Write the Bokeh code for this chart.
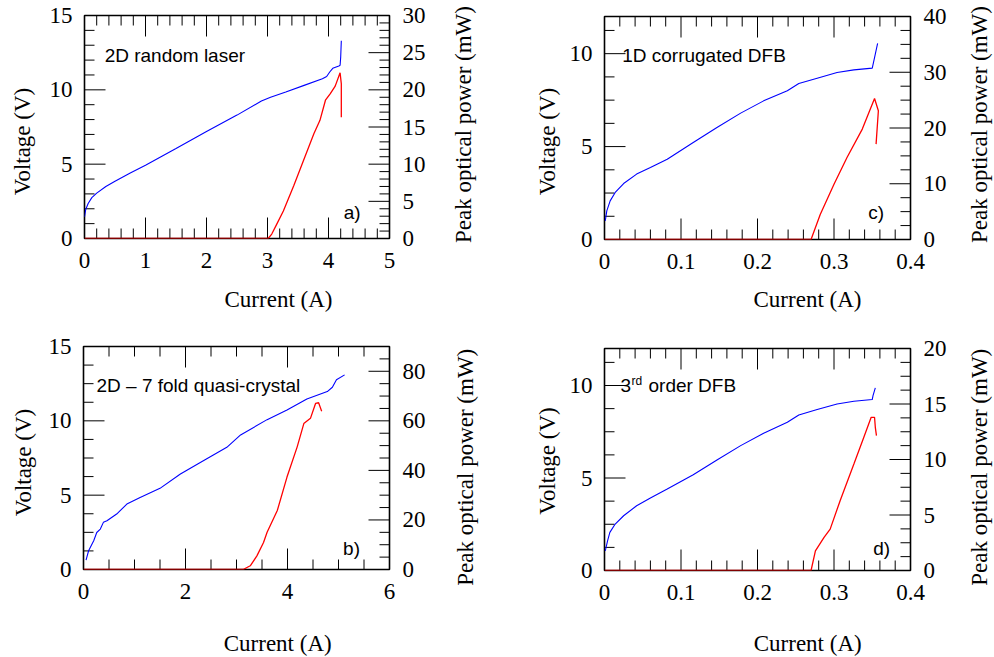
import math
from bokeh.plotting import figure
from bokeh.models import Range1d, LinearAxis, FixedTicker, Label
from bokeh.layouts import column, row
from bokeh.embed import file_html
from bokeh.resources import INLINE

# ---------------- data ----------------
# panel a) 2D random laser
a_cur_v = [0.0, 0.02, 0.06, 0.12, 0.2, 0.35, 0.5, 0.75, 1.0, 1.5, 2.0, 2.5, 2.9, 3.05,
           3.3, 3.6, 3.9, 3.97, 4.02, 4.07, 4.17, 4.19, 4.2, 4.21]
a_volt = [1.45, 1.95, 2.35, 2.75, 3.05, 3.5, 3.85, 4.4, 4.92, 6.05, 7.2, 8.3, 9.25, 9.5,
          9.85, 10.3, 10.75, 10.9, 11.2, 11.45, 11.6, 11.65, 12.2, 13.3]
a_cur_p = [0.0, 3.01, 3.07, 3.15, 3.26, 3.43, 3.59, 3.76, 3.86, 3.95, 4.03, 4.11, 4.19, 4.21, 4.21]
a_pow = [0.0, 0.0, 0.6, 1.9, 3.7, 7.1, 10.5, 14.1, 15.9, 18.6, 19.5, 20.5, 22.3, 20.8, 16.3]

# panel b) 2D - 7 fold quasi-crystal
b_cur_v = [0.05, 0.1, 0.2, 0.26, 0.33, 0.39, 0.46, 0.65, 0.85, 1.11, 1.5, 1.9, 2.29, 2.81,
           3.08, 3.6, 3.99, 4.38, 4.78, 4.88, 4.96, 5.12]
b_volt = [0.63, 1.26, 1.93, 2.49, 2.72, 3.17, 3.28, 3.73, 4.4, 4.85, 5.46, 6.42, 7.2, 8.22,
          9.05, 10.08, 10.73, 11.47, 11.97, 12.26, 12.76, 13.09]
b_cur_p = [0.0, 3.13, 3.27, 3.4, 3.53, 3.6, 3.8, 3.99, 4.19, 4.32, 4.45, 4.55, 4.61, 4.67]
b_pow = [0.0, 0.0, 1.5, 5.5, 10.9, 15.0, 23.8, 37.3, 49.5, 58.9, 61.0, 67.0, 67.3, 63.9]

# panel c) 1D corrugated DFB
c_cur_v = [0.001, 0.003, 0.0074, 0.014, 0.025, 0.042, 0.06, 0.082, 0.116, 0.147, 0.178,
           0.208, 0.239, 0.254, 0.278, 0.304, 0.326, 0.35, 0.353, 0.357]
c_volt = [1.0, 1.54, 2.08, 2.53, 3.01, 3.52, 3.87, 4.32, 5.22, 6.03, 6.8, 7.46, 8.0, 8.39,
          8.68, 8.99, 9.13, 9.22, 9.79, 10.56]
c_cur_p = [0.0, 0.27, 0.282, 0.3, 0.317, 0.337, 0.353, 0.358, 0.355]
c_pow = [0.0, 0.0, 4.5, 9.9, 14.7, 19.8, 25.3, 23.1, 17.1]

# panel d) 3rd order DFB
d_cur_v = [0.001, 0.004, 0.007, 0.014, 0.025, 0.042, 0.06, 0.082, 0.116, 0.147, 0.178,
           0.208, 0.239, 0.254, 0.278, 0.304, 0.326, 0.35, 0.351, 0.354]
d_volt = [1.06, 1.6, 2.06, 2.51, 2.96, 3.5, 3.92, 4.4, 5.18, 5.97, 6.75, 7.42, 8.01, 8.41,
          8.7, 9.0, 9.15, 9.24, 9.45, 9.87]
d_cur_p = [0.0, 0.27, 0.2757, 0.287, 0.295, 0.308, 0.326, 0.339, 0.3486, 0.353, 0.354, 0.3555]
d_pow = [0.0, 0.0, 1.77, 2.98, 3.73, 6.29, 9.59, 12.0, 13.8, 13.8, 12.9, 12.15]

# ticks
a_xt = [0, 1, 2, 3, 4, 5]
a_vt = [0, 5, 10, 15]
a_pt = [0, 5, 10, 15, 20, 25, 30]
b_xt = [0, 2, 4, 6]
b_vt = [0, 5, 10, 15]
b_pt = [0, 20, 40, 60, 80]
cd_xt = [0, 0.1, 0.2, 0.3, 0.4]
cd_xlab = ["0", "0.1", "0.2", "0.3", "0.4"]
cd_vt = [0, 5, 10]
c_pt = [0, 10, 20, 30, 40]
d_pt = [0, 5, 10, 15, 20]

X_LABEL = "Current (A)"
V_LABEL = "Voltage (V)"
P_LABEL = "Peak optical power (mW)"

SERIF = "Liberation Serif"
SANS = "Liberation Sans"
FS = "23px"
MAJ = 21
MIN = 10


def minors(lo, hi, step, majors):
    out = []
    n = int(round((hi - lo) / step))
    for i in range(n + 1):
        v = round(lo + i * step, 6)
        if all(abs(v - m) > 1e-9 for m in majors):
            out.append(v)
    return out


def style(ax, ticks, labels=None, standoff=10):
    ax.ticker = FixedTicker(ticks=ticks, minor_ticks=[])
    ax.major_tick_in = 0
    ax.major_tick_out = 0
    ax.minor_tick_in = 0
    ax.minor_tick_out = 0
    ax.axis_line_color = None
    ax.major_label_text_font = SERIF
    ax.major_label_text_font_size = FS
    ax.major_label_text_color = "black"
    ax.major_label_standoff = standoff
    if labels is not None:
        ax.major_label_overrides = {t: l for t, l in zip(ticks, labels)}


def tick_marks(p, xr, vr, pr, xt, xm, vt, vm, pt, pm, fw, fh):
    dx = (xr[1] - xr[0]) / fw
    dv = (vr[1] - vr[0]) / fh
    x0, y0, x1, y1 = [], [], [], []
    for ticks, L in ((xt, MAJ), (xm, MIN)):
        for t in ticks:
            x0 += [t, t]
            x1 += [t, t]
            y0 += [vr[0], vr[1]]
            y1 += [vr[0] + L * dv, vr[1] - L * dv]
    for ticks, L in ((vt, MAJ), (vm, MIN)):
        for t in ticks:
            x0.append(xr[0])
            x1.append(xr[0] + L * dx)
            y0.append(t)
            y1.append(t)
    p.segment(x0, y0, x1, y1, line_color="black", line_width=1)
    rx0, ry0, rx1, ry1 = [], [], [], []
    for ticks, L in ((pt, MAJ), (pm, MIN)):
        for t in ticks:
            rx0.append(xr[1])
            rx1.append(xr[1] - L * dx)
            ry0.append(t)
            ry1.append(t)
    p.segment(rx0, ry0, rx1, ry1, line_color="black", line_width=1, y_range_name="pw")


def panel(xr, vr, pr, xt, xm, vt, vm, pt, pm, cv, vv, cp, pp, borders, frame, xlab=None):
    p = figure(frame_width=frame[0], frame_height=frame[1],
               x_range=Range1d(*xr), y_range=Range1d(*vr),
               min_border_left=borders[0], min_border_right=borders[1],
               min_border_top=borders[2], min_border_bottom=borders[3],
               output_backend="svg", toolbar_location=None,
               background_fill_color="white", border_fill_color="white")
    p.extra_y_ranges = {"pw": Range1d(*pr)}
    p.xgrid.visible = False
    p.ygrid.visible = False
    p.outline_line_color = "black"
    p.outline_line_width = 1.6

    style(p.xaxis[0], xt, labels=xlab, standoff=14)
    style(p.yaxis[0], vt, standoff=12)
    ry = LinearAxis(y_range_name="pw")
    style(ry, pt, standoff=13)
    p.add_layout(ry, "right")

    tick_marks(p, xr, vr, pr, xt, xm, vt, vm, pt, pm, frame[0], frame[1])

    p.line(cv, vv, line_color="blue", line_width=1.1)
    p.line(cp, pp, line_color="red", line_width=1.3, y_range_name="pw")
    return p


def holder(w, h, text, cx, cy, vertical):
    """A blank strip that carries one axis title (cx, cy: centre / baseline in px from top-left)."""
    f = figure(frame_width=w, frame_height=h, x_range=Range1d(0, w), y_range=Range1d(0, h),
               min_border=0, x_axis_location=None, y_axis_location=None,
               output_backend="svg", toolbar_location=None,
               background_fill_color="white", border_fill_color="white")
    f.outline_line_color = None
    f.xgrid.visible = False
    f.ygrid.visible = False
    if vertical:
        f.add_layout(Label(x=cx, y=h - cy, text=text, angle=math.pi / 2,
                           text_align="center", text_baseline="middle",
                           text_font=SERIF, text_font_size=FS, text_color="black"))
    else:
        f.add_layout(Label(x=cx, y=h - cy, text=text,
                           text_align="center", text_baseline="alphabetic",
                           text_font=SERIF, text_font_size=FS, text_color="black"))
    return f


def txt(p, x, y, s, size="19px", **kw):
    p.add_layout(Label(x=x, y=y, text=s, text_font=SANS, text_font_size=size,
                       text_color="black", text_baseline="alphabetic", **kw))


# ---- panel a (x 40..440, y 0..282) ----
pa = panel((0, 5), (0, 15), (0, 30), a_xt, minors(0, 5, 0.2, a_xt), a_vt, minors(0, 15, 1, a_vt),
           a_pt, minors(0, 30, 1, a_pt), a_cur_v, a_volt, a_cur_p, a_pow,
           borders=(44, 51, 15, 44), frame=(305, 223))
txt(pa, 0.33, 12.3, "2D random laser")
txt(pa, 4.25, 1.73, "a)")

# ---- panel c (x 566..950, y 0..282) ----
pc = panel((0, 0.4), (0, 12), (0, 40), cd_xt, minors(0, 0.4, 0.02, cd_xt), cd_vt, minors(0, 12, 1.25, cd_vt),
           c_pt, minors(0, 40, 2.5, c_pt), c_cur_v, c_volt, c_cur_p, c_pow,
           borders=(38, 40, 16, 43), frame=(306, 223), xlab=cd_xlab)
txt(pc, 0.0231, 9.9, "1D corrugated DFB")
txt(pc, 0.3447, 1.44, "c)")

# ---- panel b (x 40..440, y 320..613) ----
pb = panel((0, 6), (0, 15), (0, 90), b_xt, minors(0, 6, 0.5, b_xt), b_vt, minors(0, 15, 1.25, b_vt),
           b_pt, minors(0, 90, 5, b_pt), b_cur_v, b_volt, b_cur_p, b_pow,
           borders=(43, 51, 26, 44), frame=(306, 223))
txt(pb, 0.255, 12.38, "2D \u2013 7 fold quasi-crystal")
txt(pb, 5.09, 1.43, "b)")

# ---- panel d (x 566..950, y 320..613) ----
pd_ = panel((0, 0.4), (0, 12), (0, 20), cd_xt, minors(0, 0.4, 0.02, cd_xt), cd_vt, minors(0, 12, 1.25, cd_vt),
            d_pt, minors(0, 20, 1.25, d_pt), d_cur_v, d_volt, d_cur_p, d_pow,
            borders=(38, 40, 28, 43), frame=(306, 222), xlab=cd_xlab)
txt(pd_, 0.0209, 10.0, "3")
txt(pd_, 0.0209, 10.0, "rd", size="12px", x_offset=11, y_offset=5)
txt(pd_, 0.0209, 10.0, "order DFB", x_offset=28)
txt(pd_, 0.3512, 1.2, "d)")

top = row(
    holder(40, 320, V_LABEL, 22, 141, True),
    column(pa, holder(400, 38, X_LABEL, 194, 17, False)),
    holder(56, 320, P_LABEL, 23, 124, True),
    holder(70, 320, V_LABEL, 51, 141, True),
    column(pc, holder(384, 38, X_LABEL, 203, 17, False)),
    holder(44, 320, P_LABEL, 29, 124, True),
)
bottom = row(
    holder(40, 337, V_LABEL, 22.7, 142, True),
    column(pb, holder(400, 44, X_LABEL, 194.2, 30, False)),
    holder(56, 337, P_LABEL, 24.7, 146.7, True),
    holder(70, 337, V_LABEL, 51.2, 140.5, True),
    column(pd_, holder(384, 44, X_LABEL, 203.2, 30, False)),
    holder(44, 337, P_LABEL, 29.2, 146.7, True),
)
layout = column(top, bottom)
open("out.html", "w").write(file_html(layout, INLINE))
